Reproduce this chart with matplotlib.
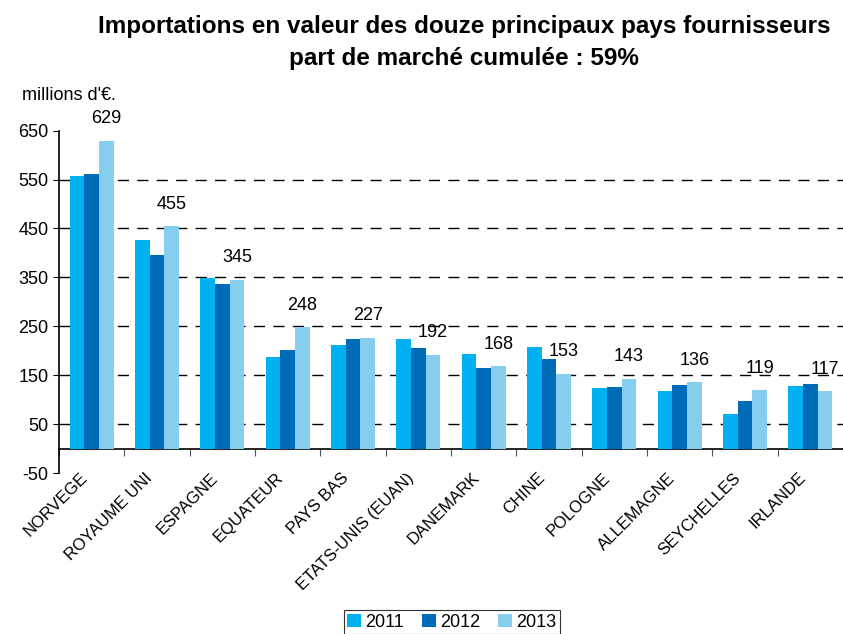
import numpy as np
import matplotlib
matplotlib.use("Agg")
import matplotlib.pyplot as plt
import matplotlib.transforms as mtransforms

plt.rcParams["font.family"] = ["Liberation Sans", "DejaVu Sans"]
plt.rcParams["axes.unicode_minus"] = False

countries = ["NORVEGE", "ROYAUME UNI", "ESPAGNE", "EQUATEUR", "PAYS BAS",
             "ETATS-UNIS (EUAN)", "DANEMARK", "CHINE", "POLOGNE", "ALLEMAGNE",
             "SEYCHELLES", "IRLANDE"]
years = ["2011", "2012", "2013"]
v2011 = [557, 426, 348, 187, 212, 225, 194, 208, 123, 117, 70, 127]
v2012 = [561, 395, 336, 201, 225, 206, 164, 184, 125, 129, 97, 133]
v2013 = [629, 455, 345, 248, 227, 192, 168, 153, 143, 136, 119, 117]
colors = ["#00B0F0", "#006BB6", "#87CEEE"]
yticks = [-50, 50, 150, 250, 350, 450, 550, 650]

W, H = 843, 634
fig = plt.figure(figsize=(W / 100, H / 100), dpi=100)
left, right, top, bottom = 59, 843, 130.7, 473
ax = fig.add_axes([left / W, 1 - bottom / H, (right - left) / W,
                   (bottom - top) / H])

x = np.arange(len(countries))
bw = 0.225
for i, (vals, c, yr) in enumerate(zip([v2011, v2012, v2013], colors, years)):
    ax.bar(x + (i - 1) * bw, vals, bw, color=c, label=yr, zorder=3)

# only the 2013 value is written above each group
for xi, v in zip(x, v2013):
    ax.annotate(str(v), (xi + bw, v), xytext=(0, 22), textcoords="offset pixels",
                ha="center", va="center", fontsize=13)

ax.set_xlim(-0.5, len(countries) - 0.5)
ax.set_ylim(-50, 650)
ax.set_yticks(yticks)
ax.tick_params(axis="y", labelsize=13, length=4, direction="out")
for y in yticks[1:-1]:
    ax.axhline(y, color="black", lw=1, ls=(0, (8, 6)), zorder=1)

for s in ("top", "right"):
    ax.spines[s].set_visible(False)
ax.spines["bottom"].set_position(("data", 0))
ax.spines["left"].set_linewidth(1.2)
ax.spines["bottom"].set_linewidth(1.2)
ax.set_xticks(np.arange(len(countries) + 1) - 0.5)
ax.set_xticklabels([])
ax.tick_params(axis="x", length=5, direction="out", color="#555555")

trans = mtransforms.blended_transform_factory(ax.transData, ax.transAxes)
for xi, name in zip(x, countries):
    ax.annotate(name, (xi, 0), xycoords=trans, xytext=(-12, 3),
                textcoords="offset pixels", rotation=45, ha="right",
                va="top", rotation_mode="anchor", fontsize=12)

fig.text(22 / W, 1 - 95 / H, "millions d'€.", fontsize=13, va="center",
         ha="left")
fig.text(464 / W, 1 - 26 / H, "Importations en valeur des douze principaux pays fournisseurs",
         fontsize=17.5, fontweight="bold", ha="center", va="center")
fig.text(464 / W, 1 - 58 / H, "part de marché cumulée : 59%",
         fontsize=17.5, fontweight="bold", ha="center", va="center")

leg = fig.legend(loc="upper center", bbox_to_anchor=(452 / W, 1 - 601 / H),
                 ncol=3, fontsize=13, frameon=True, fancybox=False,
                 edgecolor="black", handlelength=0.75, handleheight=0.75,
                 handletextpad=0.25, columnspacing=1.0, borderpad=0.2)
leg.get_frame().set_linewidth(0.8)

fig.savefig("out.png", dpi=100)
